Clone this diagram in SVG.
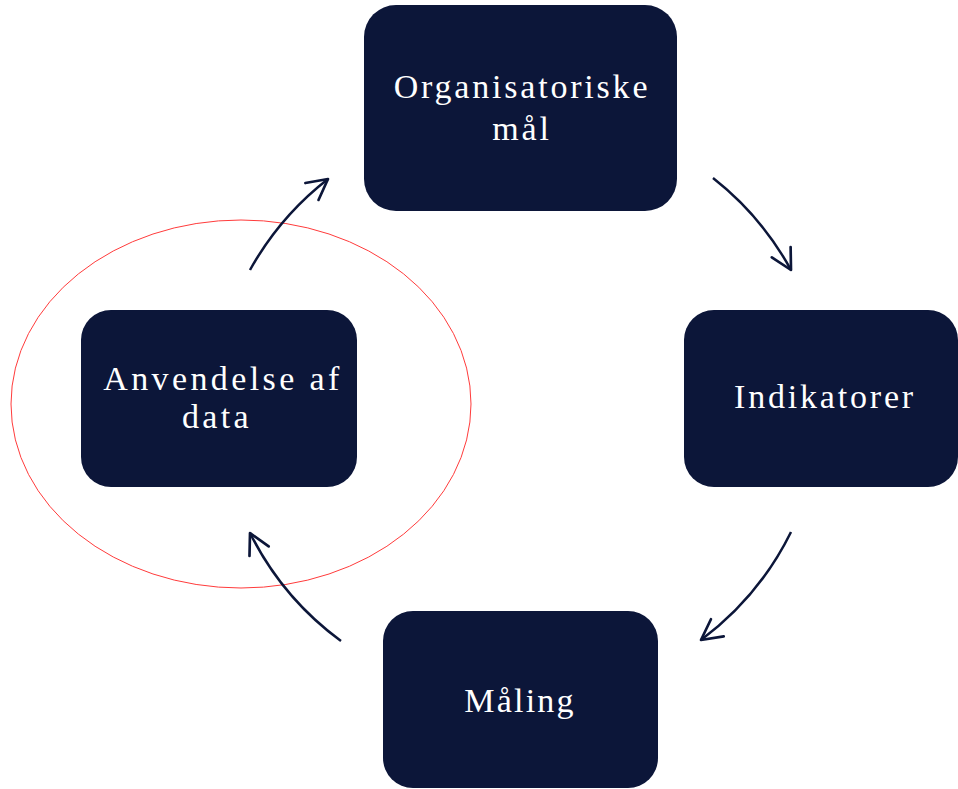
<svg xmlns="http://www.w3.org/2000/svg" width="958" height="789" viewBox="0 0 958 789">
<style>
.box{fill:#0C1639;}
.lbl{font-family:"Liberation Serif","Times New Roman",serif;font-size:34px;fill:#FFFFFF;text-anchor:middle;letter-spacing:2.8px;}
.arr{fill:none;stroke:#0C1639;stroke-width:2.5;marker-end:url(#head);}
</style>
<defs>
<marker id="head" markerUnits="userSpaceOnUse" markerWidth="30" markerHeight="30" refX="0" refY="0" viewBox="-22 -14 26 28" orient="auto" overflow="visible">
<path d="M-19,-10 L0,0 L-19,10" fill="none" stroke="#0C1639" stroke-width="2.5" stroke-linecap="round" stroke-linejoin="round"/>
</marker>
</defs>
<rect width="958" height="789" fill="#FFFFFF"/>
<ellipse cx="241" cy="404" rx="230" ry="184" fill="none" stroke="#FF3B3B" stroke-width="1"/>
<g id="connectors">
<path class="arr" d="M250,270 A300,300 0 0 1 328,179"/>
<path class="arr" d="M713,178 A300,300 0 0 1 791,270"/>
<path class="arr" d="M791,532 A300,300 0 0 1 701,640"/>
<path class="arr" d="M341,641 A300,300 0 0 1 250,533"/>
</g>
<g id="node-organisatoriske">
<rect class="box" x="364" y="5" width="313" height="206" rx="32" ry="32"/>
<text class="lbl" x="522" y="98">Organisatoriske</text>
<text class="lbl" x="522" y="140">mål</text>
</g>
<g id="node-indikatorer">
<rect class="box" x="684" y="310" width="274" height="177" rx="30" ry="30"/>
<text class="lbl" x="825" y="408">Indikatorer</text>
</g>
<g id="node-maaling">
<rect class="box" x="383" y="611" width="275" height="177" rx="30" ry="30"/>
<text class="lbl" x="520" y="712" style="letter-spacing:2.2px">Måling</text>
</g>
<g id="node-anvendelse">
<rect class="box" x="81" y="310" width="276" height="177" rx="30" ry="30"/>
<text class="lbl" x="223" y="390" style="letter-spacing:3.4px">Anvendelse af</text>
<text class="lbl" x="217" y="428" style="letter-spacing:3.4px">data</text>
</g>
</svg>
